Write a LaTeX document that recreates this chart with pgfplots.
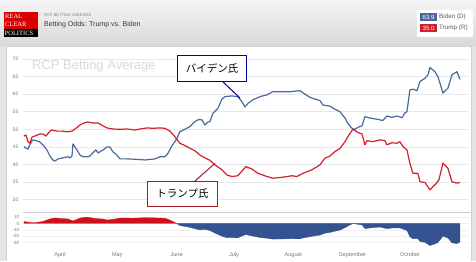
\documentclass[border=0pt]{standalone}
\usepackage{pgfplots}
\pgfplotsset{compat=1.18}
\usepackage{fontspec}
\setmainfont{Liberation Sans}
\newfontfamily\seriflogo{Liberation Serif}
\newfontfamily\jp{Noto Sans CJK JP}
\definecolor{bidenblue}{HTML}{4A6A9E}
\definecolor{trumpred}{HTML}{D41F2B}
\definecolor{areablue}{HTML}{34528F}
\definecolor{areared}{HTML}{D0101C}
\definecolor{gridc}{HTML}{E6E7EB}
\definecolor{ticktext}{HTML}{7A7A7A}
\definecolor{wm}{HTML}{D6DAE2}
\definecolor{navybox}{HTML}{000096}
\definecolor{redbox}{HTML}{A8181E}
\definecolor{bg}{HTML}{E4E4E4}
\begin{document}
\begin{tikzpicture}[x=1pt,y=1pt]
% background and header
\fill[bg] (0,0) rectangle (476,261);
\shade[top color=white!96!black, bottom color=white!85!black] (0,215) rectangle (476,261);
\fill[white] (6,0) rectangle (471,215);
\draw[white!82!black, line width=0.4pt] (6,0) -- (6,215) -- (471,215) -- (471,0);
% logo
\fill[red!85!black] (4,232) rectangle (38,249);
\fill[black] (4,224) rectangle (38,232);
\node[anchor=west, text=white, inner sep=0pt, font=\seriflogo\fontsize{6.5}{6.5}\selectfont] at (5,244.5) {REAL};
\node[anchor=west, text=white, inner sep=0pt, font=\seriflogo\fontsize{6.5}{6.5}\selectfont] at (5,237) {CLEAR};
\node[anchor=west, text=white, inner sep=0pt, font=\seriflogo\fontsize{6.5}{6.5}\selectfont] at (4.5,228) {POLITICS};
\node[anchor=west, text=black!50, inner sep=0pt, font=\fontsize{4}{4}\selectfont] at (44,246) {RCP BETTING AVERAGE};
\node[anchor=west, text=black!78, inner sep=0pt, font=\fontsize{7}{7}\selectfont] at (44,236) {Betting Odds: Trump vs. Biden};
% legend
\fill[white] (417,224) rectangle (473,251);
\fill[bidenblue] (420,240) rectangle (437,248);
\node[text=white, inner sep=0pt, font=\fontsize{6}{6}\selectfont] at (428.5,244) {63.9};
\node[anchor=west, text=black!65, inner sep=0pt, font=\fontsize{6.3}{6.3}\selectfont] at (439,244) {Biden (D)};
\fill[trumpred] (420,229) rectangle (437,237);
\node[text=white, inner sep=0pt, font=\fontsize{6}{6}\selectfont] at (428.5,233) {35.0};
\node[anchor=west, text=black!65, inner sep=0pt, font=\fontsize{6.3}{6.3}\selectfont] at (439,233) {Trump (R)};
% watermark
\node[anchor=west, text=wm, inner sep=0pt, font=\fontsize{13}{13}\selectfont] at (32,195) {RCP Betting Average};

\begin{axis}[
  at={(23pt,61.3pt)}, anchor=south west, scale only axis,
  width=445pt, height=140.7pt,
  xmin=72.7, xmax=305.3, ymin=30, ymax=70,
  xtick=\empty, ytick={30,35,...,70},
  ymajorgrids, major grid style={gridc, line width=0.7pt},
  axis line style={draw=none}, tick style={draw=none},
  /pgf/number format/assume math mode=true,
  yticklabel style={font=\fontsize{5}{6}\selectfont, text=ticktext, inner sep=0pt, xshift=-4.5pt},
]
\addplot[bidenblue, line width=1.2pt, line join=round] coordinates {
(73.2,45.1) (74.2,44.7) (75.3,44.4) (76.3,45.6) (77.4,46.7) (77.9,47.0) (80.0,46.7) (81.5,46.4) (83.1,45.6) (85.2,44.15) (86.8,42.4) (88.3,41.3) (89.4,41.0) (91.0,41.6) (93.6,41.9) (96.2,42.2) (97.2,41.9) (98.3,42.4) (98.8,45.85) (100.9,44.15) (102.5,42.7) (104.0,42.2) (106.1,42.2) (107.7,42.4) (109.2,43.3) (110.8,44.15) (111.9,43.3) (112.9,43.6) (114.5,44.15) (116.6,45.0) (118.1,45.0) (119.7,43.6) (121.8,42.7) (123.4,41.6) (127.0,41.6) (131.2,41.5) (136.4,41.3) (141.7,41.6) (144.3,42.2) (146.9,42.2) (148.5,43.2) (150.5,45.3) (152.1,46.5) (153.2,47.5) (154.7,49.35) (157.3,50.0) (160.0,50.8) (162.6,52.2) (164.1,52.7) (166.2,52.7) (167.8,51.25) (169.4,52.1) (170.4,52.2) (172.0,54.6) (174.6,56.0) (176.7,58.6) (178.2,59.3) (181.9,59.5) (185.0,59.3) (187.1,57.9) (188.7,56.4) (190.3,57.4) (192.9,58.4) (196.6,59.3) (200.2,59.8) (203.3,60.7) (207.0,60.7) (212.2,60.7) (217.5,61.0) (219.0,60.4) (222.7,59.1) (225.3,58.6) (227.9,58.2) (229.5,56.9) (233.1,56.6) (235.8,55.7) (238.4,55.0) (241.0,53.2) (242.5,51.7) (244.6,50.3) (246.2,50.0) (247.8,50.6) (249.9,51.0) (251.4,53.6) (254.0,53.2) (257.7,52.9) (260.8,52.5) (262.9,53.8) (265.5,53.4) (268.2,53.8) (270.8,53.3) (272.3,54.7) (273.4,55.0) (274.9,61.2) (276.5,61.4) (278.6,61.0) (280.2,63.6) (282.8,64.5) (284.4,65.5) (285.4,67.6) (288.0,66.4) (289.6,65.0) (292.2,60.3) (294.8,61.7) (296.9,65.5) (299.5,66.4) (301.1,64.2)
};
\addplot[trumpred, line width=1.2pt, line join=round] coordinates {
(73.2,48.1) (74.2,48.4) (75.3,46.5) (76.3,46.05) (77.4,47.8) (78.9,48.1) (81.5,48.7) (83.1,48.7) (84.7,48.1) (86.8,49.5) (87.8,49.8) (90.4,49.5) (93.0,49.5) (95.7,49.3) (98.3,49.5) (100.4,50.3) (102.5,51.25) (104.5,51.8) (106.6,52.1) (109.2,51.8) (111.9,51.8) (114.5,51.0) (116.6,50.4) (119.7,50.1) (123.4,50.0) (127.0,50.1) (131.2,49.8) (133.8,50.1) (137.5,50.4) (140.6,50.3) (144.3,50.4) (146.9,50.3) (149.5,49.5) (152.1,47.9) (154.7,46.05) (157.3,45.4) (160.0,44.6) (162.6,43.9) (165.2,42.7) (167.8,41.9) (170.4,41.2) (173.0,39.9) (176.7,38.5) (179.3,37.0) (181.9,36.6) (185.0,36.8) (187.7,38.5) (189.2,39.4) (192.4,38.7) (195.5,37.5) (200.2,36.6) (203.3,36.1) (208.6,36.4) (213.3,36.8) (215.9,36.6) (219.0,37.5) (223.7,38.5) (227.9,39.9) (230.5,41.8) (233.1,42.4) (235.8,43.7) (238.4,44.6) (241.0,46.5) (243.6,48.9) (245.2,50.0) (247.8,49.1) (249.9,48.7) (251.4,45.6) (252.5,46.8) (255.6,46.5) (259.3,47.0) (261.9,46.8) (262.9,45.6) (265.5,46.2) (268.2,46.05) (269.7,46.5) (271.3,45.1) (273.4,44.15) (274.9,40.4) (276.5,37.5) (279.1,37.5) (280.2,35.1) (282.8,34.9) (285.4,32.8) (288.0,34.2) (290.1,35.6) (292.2,40.4) (294.8,38.95) (296.9,35.1) (299.5,34.7) (301.1,34.9)
};
\end{axis}

% navigator top line
\draw[white!80!black, line width=0.6pt] (23,49) -- (470,49);

\begin{axis}[
  at={(23pt,14pt)}, anchor=south west, scale only axis,
  width=445pt, height=35pt,
  xmin=72.7, xmax=305.3, ymin=-37, ymax=18,
  ytick={-30,-20,-10,0,10},
  xtick={92,122,153,183,214,245,275},
  xticklabels={April,May,June,July,August,September,October},
  ymajorgrids, major grid style={white!94!black, line width=0.4pt},
  axis line style={draw=none}, tick style={draw=none},
  /pgf/number format/assume math mode=true,
  yticklabel style={font=\fontsize{4.6}{5}\selectfont, text=ticktext, inner sep=0pt, xshift=-3.5pt},
  xticklabel style={font=\fontsize{5.6}{6}\selectfont, text=ticktext, inner sep=0pt, yshift=-5.5pt},
]
\addplot[fill=areared, draw=areared, line width=0.3pt] coordinates {
(73.2,0) (73.2,3.0) (75.3,2.1) (77.4,1.1) (80.0,1.7) (83.0,3.1) (86.8,7.1) (89.4,8.6) (93.0,7.7) (96.2,7.1) (98.8,3.9) (100.9,6.4) (102.5,8.5) (106.0,9.9) (110.8,7.6) (114.5,6.9) (116.6,5.4) (119.7,6.5) (123.4,8.4) (131.0,8.3) (136.4,9.1) (141.7,8.7) (146.9,8.1) (148.5,6.6) (150.5,3.9) (152.1,1.4) (152.9,0)
} \closedcycle;
\addplot[fill=areablue, draw=areablue, line width=0.3pt] coordinates {
(152.9,0) (153.2,-0.5) (154.7,-3.3) (157.3,-4.6) (160.0,-6.2) (162.6,-8.3) (165.2,-10.0) (167.8,-9.4) (170.4,-11.0) (173.0,-15.1) (176.7,-20.1) (179.3,-22.4) (185.0,-22.5) (187.7,-19.0) (189.2,-17.4) (192.4,-19.6) (196.6,-22.0) (200.2,-23.2) (203.3,-24.6) (208.6,-24.3) (213.3,-24.0) (217.5,-24.2) (219.0,-22.9) (222.7,-20.8) (225.3,-19.4) (227.9,-18.3) (230.5,-15.2) (233.1,-14.2) (235.8,-12.1) (238.4,-10.4) (241.0,-6.7) (243.6,-2.3) (245.2,-0.2) (246.2,-0.3) (247.8,-1.5) (249.9,-2.3) (251.4,-8.0) (255.6,-6.6) (259.3,-5.6) (262.9,-8.2) (265.5,-7.2) (269.7,-6.9) (271.3,-8.9) (273.4,-10.9) (274.9,-20.8) (276.5,-23.9) (279.1,-23.7) (280.2,-28.5) (282.8,-29.6) (285.4,-34.8) (288.0,-32.2) (289.6,-30.0) (292.2,-19.9) (294.8,-22.8) (296.9,-30.4) (299.5,-31.7) (301.1,-29.3) (301.1,0)
} \closedcycle;
\end{axis}

% callouts
\draw[navybox, line width=1pt] (223,179) -- (240,163);
\node[draw=navybox, line width=1.4pt, fill=white, minimum width=69pt, minimum height=26pt, inner sep=0pt, font=\jp\fontsize{10.5}{10.5}\selectfont] at (212,192.5) {バイデン氏};
\draw[redbox, line width=1pt] (195,80) -- (215,97.7);
\node[draw=redbox, line width=1.4pt, fill=white, minimum width=70pt, minimum height=25pt, inner sep=0pt, font=\jp\fontsize{10.5}{10.5}\selectfont] at (182.5,67) {トランプ氏};
\end{tikzpicture}
\end{document}
